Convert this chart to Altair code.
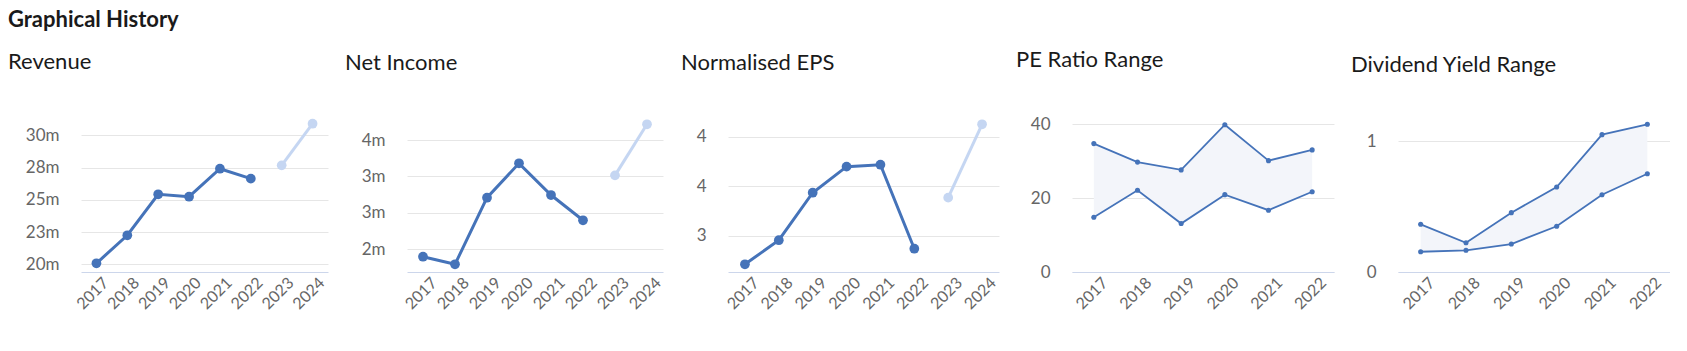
import altair as alt
import pandas as pd

# ---------------- data ----------------
years8 = ["2017", "2018", "2019", "2020", "2021", "2022", "2023", "2024"]
years6 = years8[:6]
kind8 = ["actual"] * 6 + ["forecast"] * 2

revenue = [20.08, 22.25, 25.43, 25.24, 27.41, 26.64, 27.67, 30.90]
net_income = [2.398, 2.294, 3.208, 3.680, 3.245, 2.898, 3.515, 4.216]
norm_eps = [2.714, 2.957, 3.437, 3.700, 3.720, 2.871, 3.387, 4.128]

pe_high = [34.7, 29.7, 27.6, 39.8, 30.1, 33.0]
pe_low = [14.8, 22.1, 13.1, 20.9, 16.7, 21.7]

dy_high = [0.365, 0.224, 0.454, 0.650, 1.051, 1.130]
dy_low = [0.155, 0.166, 0.214, 0.350, 0.591, 0.752]

rev_ticks = [20, 22.5, 25, 27.5, 30]
rev_labels = ["20m", "23m", "25m", "28m", "30m"]
ni_ticks = [2.5, 3, 3.5, 4]
ni_labels = ["2m", "3m", "3m", "4m"]
eps_ticks = [3, 3.5, 4]
eps_labels = ["3", "4", "4"]
pe_ticks = [0, 20, 40]
pe_labels = ["0", "20", "40"]
dy_ticks = [0, 1]
dy_labels = ["0", "1"]

# ---------------- style ----------------
DARK = "#4573b9"
LIGHT = "#c5d6f2"
FILL = "#f3f5fa"
GRID = "#e6e6e6"
DOMAIN = "#ccd6eb"
LABEL = "#666666"
FONT = "Lato"
PLOT_H = 148


def label_expr(ticks, labels):
    expr = "''"
    for t, l in reversed(list(zip(ticks, labels))):
        expr = f"datum.value == {t} ? '{l}' : ({expr})"
    return expr


def x_axis(offset=11):
    return alt.Axis(
        labelAngle=-45, labelAlign="right", labelBaseline="middle",
        labelOffset=offset, labelPadding=8, ticks=False, tickSize=0,
        labelFontSize=16,
        domain=True, domainColor=DOMAIN, domainWidth=1, grid=False,
    )


def y_axis(ticks, labels, extent):
    return alt.Axis(
        values=ticks, labelExpr=label_expr(ticks, labels), grid=True,
        gridColor=GRID, gridWidth=1, domain=False, ticks=False, tickSize=0,
        labelPadding=22, minExtent=extent, maxExtent=extent, labelFontSize=17,
    )


def panel_title(text):
    return alt.TitleParams(text, fontSize=22, fontWeight="normal", anchor="start",
                           font=FONT, color="#1a1a1a", offset=43.5)


def line_panel(title, values, domain, ticks, labels, width, extent, xoff=11):
    df = pd.DataFrame({"year": years8, "value": values, "kind": kind8})
    x = alt.X("year:O", title=None, axis=x_axis(xoff), sort=years8)
    y = alt.Y("value:Q", title=None,
              scale=alt.Scale(domain=domain, nice=False, zero=False),
              axis=y_axis(ticks, labels, extent))
    color = alt.Color("kind:N", legend=None,
                      scale=alt.Scale(domain=["actual", "forecast"], range=[DARK, LIGHT]))
    base = alt.Chart(df)
    line = base.mark_line(strokeWidth=3).encode(x=x, y=y, color=color)
    pts = base.mark_circle(size=95, opacity=1).encode(x=x, y=y, color=color)
    return alt.layer(line, pts).properties(width=width, height=PLOT_H, title=panel_title(title))


def range_panel(title, hi, lo, domain, ticks, labels, width, extent):
    df = pd.DataFrame({"year": years6, "high": hi, "low": lo})
    x = alt.X("year:O", title=None, axis=x_axis(), sort=years6)
    scale = alt.Scale(domain=domain, nice=False, zero=False)
    base = alt.Chart(df)
    area = base.mark_area(color=FILL, opacity=1).encode(
        x=x, y=alt.Y("low:Q", title=None, scale=scale, axis=y_axis(ticks, labels, extent)),
        y2="high:Q")
    l_hi = base.mark_line(color=DARK, strokeWidth=1.8).encode(x=x, y=alt.Y("high:Q", scale=scale))
    l_lo = base.mark_line(color=DARK, strokeWidth=1.8).encode(x=x, y=alt.Y("low:Q", scale=scale))
    p_hi = base.mark_circle(color=DARK, size=26, opacity=1).encode(x=x, y=alt.Y("high:Q", scale=scale))
    p_lo = base.mark_circle(color=DARK, size=26, opacity=1).encode(x=x, y=alt.Y("low:Q", scale=scale))
    return alt.layer(area, l_hi, l_lo, p_hi, p_lo).properties(
        width=width, height=PLOT_H, title=panel_title(title))


p1 = line_panel("Revenue", revenue, [19.403, 30.876], rev_ticks, rev_labels, 247, 73, xoff=9)
p2 = line_panel("Net Income", net_income, [2.1885, 4.2196], ni_ticks, ni_labels, 256, 62)
p3 = line_panel("Normalised EPS", norm_eps, [2.636, 4.131], eps_ticks, eps_labels, 271, 47)
p4 = range_panel("PE Ratio Range", pe_high, pe_low, [0, 40], pe_ticks, pe_labels, 262, 56)
p5 = range_panel("Dividend Yield Range", dy_high, dy_low, [0, 1.1324], dy_ticks, dy_labels, 272, 47)

chart = alt.hconcat(p1, p2, p3, p4, p5, spacing=17).properties(
    title=alt.TitleParams("Graphical History", fontSize=22, fontWeight="bold",
                          anchor="start", font=FONT, color="#1a1a1a", offset=17),
    padding={"left": 8, "top": 8, "right": 0, "bottom": 0},
).configure(
    font=FONT, background="white"
).configure_view(
    strokeWidth=0
).configure_axis(
    labelFont=FONT, labelColor=LABEL
)

chart.save("out.html", embed_options={"renderer": "svg", "actions": False})
